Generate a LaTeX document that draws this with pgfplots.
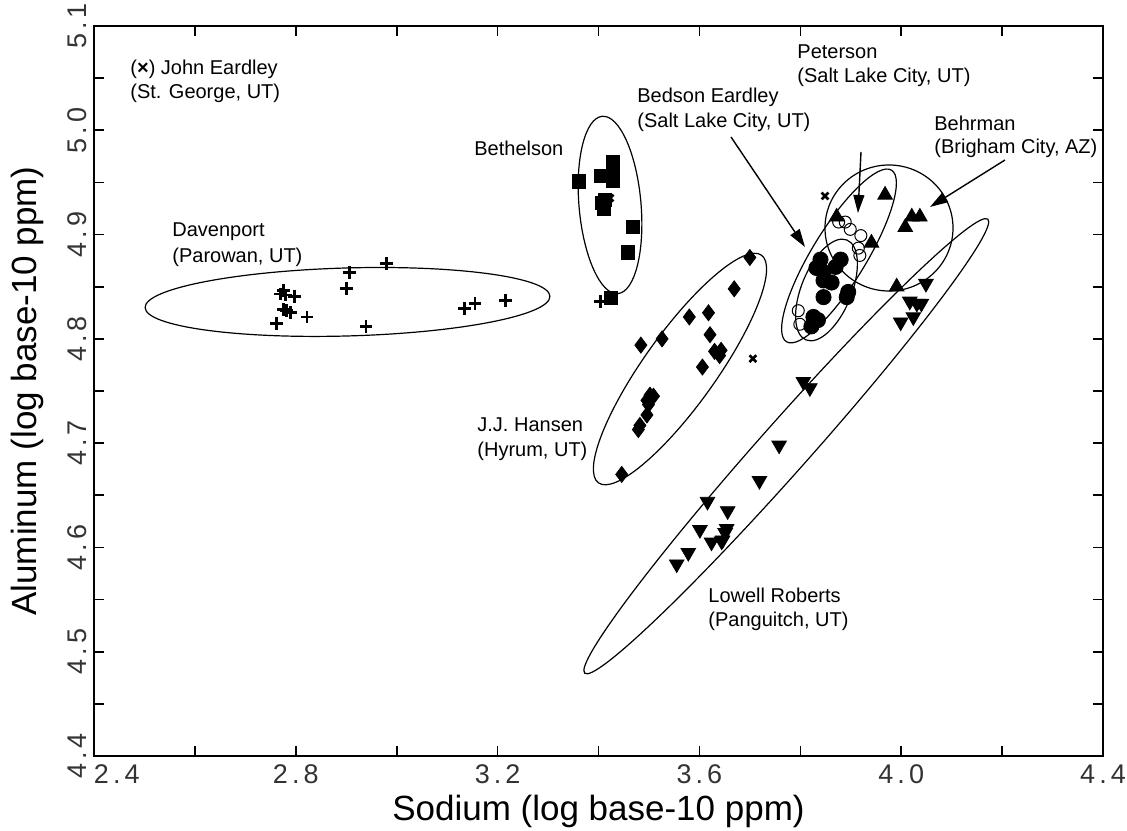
\documentclass[border=0pt]{standalone}
\usepackage{fontspec}
\setmainfont{Liberation Sans}
\newfontfamily\tickfont[LetterSpace=15]{Liberation Sans}
\usepackage{pgfplots}
\pgfplotsset{compat=1.18}
\usetikzlibrary{arrows.meta}
\newcommand{\annot}{\fontsize{10}{12}\selectfont}
\begin{document}
\begin{tikzpicture}
\begin{axis}[
  scale only axis, width=504.5pt, height=365pt,
  xmin=2.4, xmax=4.4, ymin=4.4, ymax=5.1,
  xtick={2.4,2.8,3.2,3.6,4.0,4.4}, minor xtick={2.6,3.0,3.4,3.8,4.2},
  xticklabels={\makebox[0pt][l]{2.4},2.8,3.2,3.6,4.0,4.4},
  ytick={4.4,4.5,4.6,4.7,4.8,4.9,5.0,5.1},
  minor ytick={4.45,4.55,4.65,4.75,4.85,4.95,5.05},
  tick align=inside, tick pos=both,
  major tick length=5pt, minor tick length=5pt,
  axis line style={line width=1.2pt},
  every tick/.style={black, line width=0.8pt},
  /pgf/number format/.cd, fixed, fixed zerofill, precision=1, assume math mode=true,
  /pgfplots/.cd,
  tick label style={font=\tickfont\fontsize{13.5}{15}\selectfont, text=black!80},
  xticklabel style={yshift=-1pt},
  yticklabel style={rotate=90, anchor=south},
  xlabel={Sodium (log base-10 ppm)},
  ylabel={Aluminum (log base-10 ppm)},
  label style={font=\fontsize{17.5}{20}\selectfont},
  xlabel style={at={(axis description cs:0.5,-0.0755)}, anchor=center},
  ylabel style={at={(axis description cs:-0.0664,0.5)}, anchor=center, rotate=0},
]
% ellipse centres
\coordinate (e1) at (axis cs:2.9025,4.8354);
\coordinate (e2) at (axis cs:3.4228,4.9284);
\coordinate (e3) at (axis cs:3.5615,4.7711);
\coordinate (e4) at (axis cs:3.7722,4.6971);
\coordinate (e5) at (axis cs:3.8767,4.8795);
\coordinate (e6) at (axis cs:3.8519,4.8469);
\coordinate (e7) at (axis cs:3.9758,4.9063);
\coordinate (sw) at (rel axis cs:0,0);
\coordinate (ne) at (rel axis cs:1,1);

% Davenport (+)
\addplot[only marks, mark=+, mark size=3.2pt, mark options={line width=1.4pt}] coordinates {
(2.980,4.872) (2.907,4.864) (2.901,4.848) (2.775,4.846) (2.770,4.843) (2.780,4.842)
(2.798,4.841) (2.775,4.828) (2.789,4.825) (2.782,4.827) (2.822,4.821) (2.762,4.815)
(2.939,4.812) (3.135,4.829) (3.155,4.834) (3.215,4.837) (3.404,4.836)};
% Bethelson (squares)
\addplot[only marks, mark=square*, mark size=3.3pt] coordinates {
(3.361,4.951) (3.405,4.956) (3.429,4.970) (3.428,4.962) (3.429,4.952) (3.406,4.930)
(3.410,4.925) (3.412,4.933) (3.468,4.907) (3.458,4.883) (3.424,4.839)};
% J.J. Hansen (diamonds)
\addplot[only marks, mark=diamond*, mark size=4pt] coordinates {
(3.700,4.878) (3.669,4.848) (3.618,4.825) (3.580,4.821) (3.621,4.804) (3.630,4.788)
(3.643,4.789) (3.640,4.784) (3.606,4.773) (3.526,4.800) (3.484,4.794) (3.502,4.746)
(3.509,4.745) (3.496,4.741) (3.499,4.737) (3.496,4.727) (3.482,4.717) (3.479,4.713)
(3.446,4.670)};
% Bedson Eardley (filled circles)
\addplot[only marks, mark=*, mark size=3.8pt] coordinates {
(3.840,4.876) (3.832,4.868) (3.846,4.864) (3.880,4.876) (3.870,4.869) (3.846,4.856)
(3.862,4.854) (3.846,4.840) (3.895,4.845) (3.892,4.840) (3.826,4.821) (3.835,4.818)
(3.822,4.812)};
% Peterson (open circles)
\addplot[only marks, mark=o, mark size=3pt, mark options={line width=0.5pt}] coordinates {
(3.876,4.912) (3.889,4.912) (3.899,4.905) (3.920,4.899) (3.915,4.887) (3.918,4.880)
(3.796,4.827) (3.799,4.814)};
% Behrman (triangles up)
\addplot[only marks, mark=triangle*, mark size=4.2pt] coordinates {
(3.968,4.938) (3.872,4.917) (4.021,4.917) (4.037,4.917) (4.008,4.907) (3.941,4.892)
(3.991,4.850)};
% Lowell Roberts (triangles down)
\addplot[only marks, mark=triangle*, mark size=4.2pt, mark options={rotate=180}] coordinates {
(4.049,4.853) (4.017,4.836) (4.031,4.834) (4.040,4.834) (4.024,4.821) (3.999,4.816)
(3.819,4.753) (3.806,4.759) (3.758,4.698) (3.719,4.664) (3.616,4.644) (3.656,4.635)
(3.601,4.617) (3.654,4.618) (3.651,4.614) (3.624,4.605) (3.646,4.607) (3.644,4.606)
(3.578,4.595) (3.555,4.584)};
% John Eardley (x)
\addplot[only marks, mark=x, mark size=2.4pt, mark options={line width=1.3pt}] coordinates {
(3.849,4.937) (3.423,4.935) (3.706,4.781)};

% arrows
\draw[line width=0.7pt, -{Triangle[length=9pt,width=5.5pt]}] (axis cs:3.6626,4.9936) -- (axis cs:3.8093,4.8881);
\draw[line width=0.7pt, -{Triangle[length=9pt,width=5.5pt]}] (axis cs:3.9203,4.9792) -- (axis cs:3.9143,4.9207);
\draw[line width=0.7pt, -{Triangle[length=9pt,width=5.5pt]}] (axis cs:4.2057,4.9715) -- (axis cs:4.0571,4.9265);

% labels
\node[anchor=west, inner sep=0, font=\annot] at (axis cs:2.4714,5.0588) {(\textbf{×}) John Eardley};
\node[anchor=west, inner sep=0, font=\annot] at (axis cs:2.4714,5.0358) {(St. George, UT)};
\node[anchor=west, inner sep=0, font=\annot] at (axis cs:3.7935,5.0751) {Peterson};
\node[anchor=west, inner sep=0, font=\annot] at (axis cs:3.7935,5.0511) {(Salt Lake City, UT)};
\node[anchor=west, inner sep=0, font=\annot] at (axis cs:3.4763,5.0319) {Bedson Eardley};
\node[anchor=west, inner sep=0, font=\annot] at (axis cs:3.4763,5.0080) {(Salt Lake City, UT)};
\node[anchor=west, inner sep=0, font=\annot] at (axis cs:4.0650,5.0070) {Behrman};
\node[anchor=west, inner sep=0, font=\annot] at (axis cs:4.0650,4.9830) {(Brigham City, AZ)};
\node[anchor=west, inner sep=0, font=\annot] at (axis cs:3.1532,4.9830) {Bethelson};
\node[anchor=west, inner sep=0, font=\annot] at (axis cs:2.5546,4.9025) {Davenport};
\node[anchor=west, inner sep=0, font=\annot] at (axis cs:2.5546,4.8785) {(Parowan, UT)};
\node[anchor=west, inner sep=0, font=\annot] at (axis cs:3.1592,4.7175) {J.J. Hansen};
\node[anchor=west, inner sep=0, font=\annot] at (axis cs:3.1592,4.6925) {(Hyrum, UT)};
\node[anchor=west, inner sep=0, font=\annot] at (axis cs:3.6171,4.5545) {Lowell Roberts};
\node[anchor=west, inner sep=0, font=\annot] at (axis cs:3.6171,4.5295) {(Panguitch, UT)};
\end{axis}
% confidence ellipses
\begin{scope}[line width=0.6pt]
\draw[rotate around={1.6:(e1)}] (e1) ellipse [x radius=101.25pt, y radius=17pt];
\draw[rotate around={95:(e2)}] (e2) ellipse [x radius=44.5pt, y radius=15.5pt];
\draw[rotate around={54.4:(e3)}] (e3) ellipse [x radius=70pt, y radius=18pt];
\draw[rotate around={48.4:(e4)}] (e4) ellipse [x radius=151.8pt, y radius=12.5pt];
\draw[rotate around={58.5:(e5)}] (e5) ellipse [x radius=50.3pt, y radius=13.5pt];
\draw[rotate around={67.7:(e6)}] (e6) ellipse [x radius=27pt, y radius=12.5pt];
\draw (e7) ellipse [x radius=32pt, y radius=31.5pt];
\end{scope}
\pgfresetboundingbox
\path ([shift={(-47pt,-37pt)}]sw) rectangle ([shift={(12pt,13pt)}]ne);
\end{tikzpicture}
\end{document}
